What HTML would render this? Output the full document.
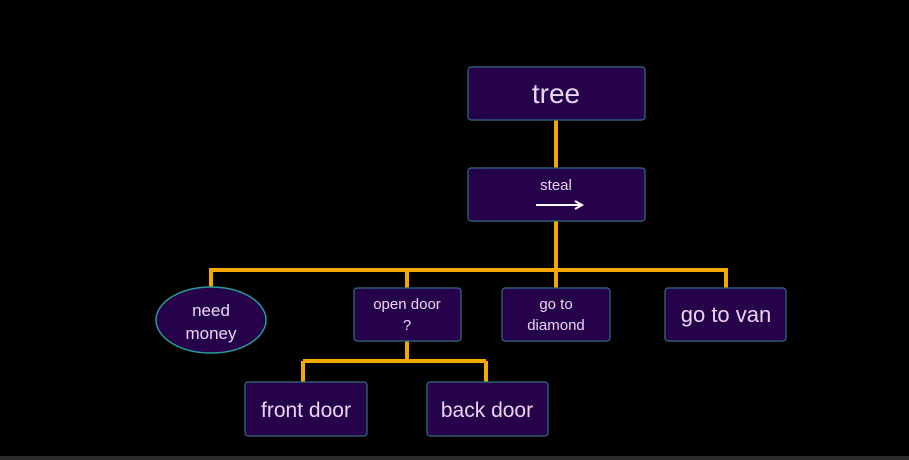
<!DOCTYPE html>
<html><head><meta charset="utf-8"><style>
html,body{margin:0;padding:0;background:#000;}
svg{display:block;}
text{font-family:"Liberation Sans",sans-serif;fill:#e6d6f0;text-anchor:middle;}
</style></head><body>
<svg width="909" height="460" viewBox="0 0 909 460" xmlns="http://www.w3.org/2000/svg">
<rect x="0" y="0" width="909" height="460" fill="#000"/>
<rect x="0" y="456" width="909" height="4" fill="#2b2b2b"/>
<g stroke="#f5a800" stroke-width="4" fill="none">
<line x1="556" y1="120" x2="556" y2="168"/>
<line x1="556" y1="221" x2="556" y2="288"/>
<line x1="209" y1="270" x2="728" y2="270"/>
<line x1="211" y1="270" x2="211" y2="288"/>
<line x1="407" y1="270" x2="407" y2="288"/>
<line x1="726" y1="270" x2="726" y2="288"/>
<line x1="407" y1="341" x2="407" y2="361"/>
<line x1="303" y1="361" x2="486" y2="361"/>
<line x1="303" y1="361" x2="303" y2="382"/>
<line x1="486" y1="361" x2="486" y2="382"/>
</g>
<g fill="#26024a" stroke="#2f6e80" stroke-width="1.2">
<rect x="468" y="67" width="177" height="53" rx="3"/>
<rect x="468" y="168" width="177" height="53" rx="3"/>
<ellipse cx="211" cy="320" rx="55" ry="33" stroke="#2a9a96" stroke-width="1.5"/>
<rect x="354" y="288" width="107" height="53" rx="3"/>
<rect x="502" y="288" width="108" height="53" rx="3"/>
<rect x="665" y="288" width="121" height="53" rx="3"/>
<rect x="245" y="382" width="122" height="54" rx="3"/>
<rect x="427" y="382" width="121" height="54" rx="3"/>
</g>
<text x="556" y="103" font-size="28">tree</text>
<text x="556" y="190" font-size="15">steal</text>
<line x1="536" y1="205" x2="580" y2="205" stroke="#fff" stroke-width="2"/>
<path d="M575 201 L582 205 L575 209" stroke="#fff" stroke-width="2" fill="none"/>
<text x="211" y="316" font-size="17">need</text>
<text x="211" y="339" font-size="17">money</text>
<text x="407" y="309" font-size="15">open door</text>
<text x="407" y="330" font-size="15">?</text>
<text x="556" y="309" font-size="15">go to</text>
<text x="556" y="330" font-size="15">diamond</text>
<text x="726" y="322" font-size="22">go to van</text>
<text x="306" y="417" font-size="21">front door</text>
<text x="487" y="417" font-size="21">back door</text>
</svg>
</body></html>
